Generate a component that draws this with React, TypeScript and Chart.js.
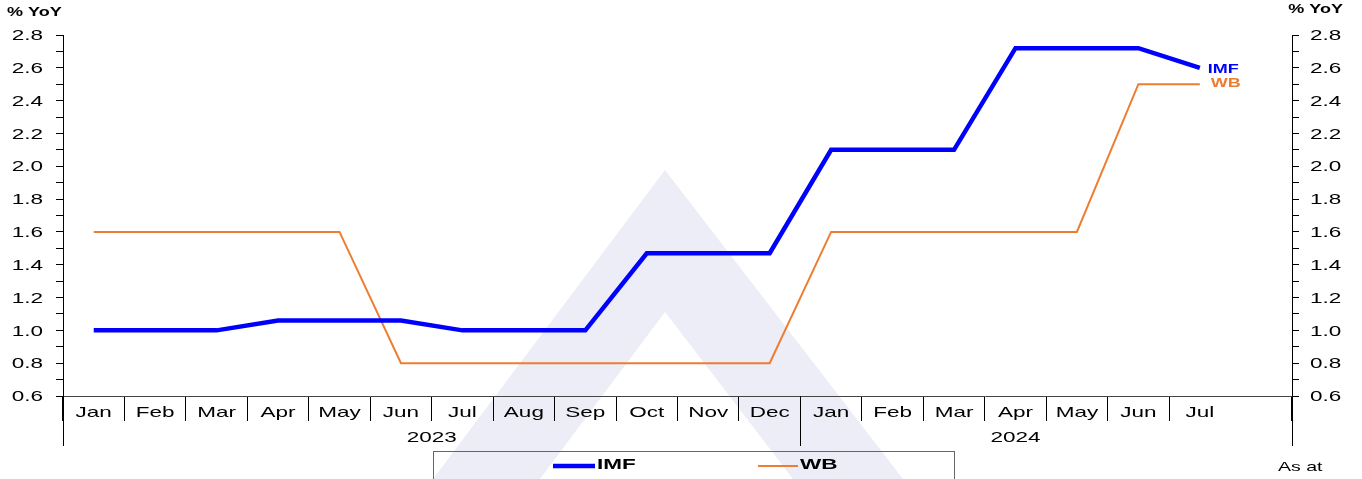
import React, { useEffect, useRef } from "react";
import { Chart, registerables } from "chart.js";

Chart.register(...registerables);

const monthLabels = [
  "Jan", "Feb", "Mar", "Apr", "May", "Jun", "Jul", "Aug", "Sep", "Oct", "Nov", "Dec",
  "Jan", "Feb", "Mar", "Apr", "May", "Jun", "Jul", "",
];
const yearLabels = ["2023", "2024"];
const yearMonthCounts = [12, 7];

const imfValues = [1.0, 1.0, 1.0, 1.06, 1.06, 1.06, 1.0, 1.0, 1.0, 1.47, 1.47, 1.47, 2.1, 2.1, 2.1, 2.72, 2.72, 2.72, 2.6];
const wbValues = [1.6, 1.6, 1.6, 1.6, 1.6, 0.8, 0.8, 0.8, 0.8, 0.8, 0.8, 0.8, 1.6, 1.6, 1.6, 1.6, 1.6, 2.5, 2.5];

const seriesNames = ["IMF", "WB"];
const seriesColors = ["#0000FF", "#ED7D31"];
const seriesWidths = [4.5, 2];

const yMin = 0.6;
const yMax = 2.8;
const yStep = 0.1;
const unitLabel = "% YoY";
const footnote = "As at";

const FONT = "'Liberation Sans', Arial, sans-serif";
const STRETCH = 1.5;

function stretchedText(
  ctx: CanvasRenderingContext2D,
  text: string,
  x: number,
  y: number,
  align: CanvasTextAlign,
  font: string,
  color: string
) {
  ctx.save();
  ctx.translate(x, y);
  ctx.scale(STRETCH, 1);
  ctx.font = font;
  ctx.fillStyle = color;
  ctx.textAlign = align;
  ctx.textBaseline = "middle";
  ctx.fillText(text, 0, 0);
  ctx.restore();
}

export default function App() {
  const canvasRef = useRef<HTMLCanvasElement | null>(null);

  useEffect(() => {
    const canvas = canvasRef.current;
    if (!canvas) return;

    const watermark = {
      id: "watermark",
      beforeDraw(chart: any) {
        const ctx = chart.ctx;
        ctx.save();
        ctx.fillStyle = "#EDEDF7";
        ctx.beginPath();
        ctx.moveTo(665, 170);
        ctx.lineTo(903, 479);
        ctx.lineTo(793, 479);
        ctx.lineTo(665, 312);
        ctx.lineTo(540, 479);
        ctx.lineTo(433, 479);
        ctx.closePath();
        ctx.fill();
        ctx.restore();
      },
    };

    const extras = {
      id: "extras",
      afterDatasetsDraw(chart: any) {
        const ctx = chart.ctx;
        const offsets = [8, 11];
        const dy = [1.5, -1];
        chart.data.datasets.forEach((ds: any, i: number) => {
          const meta = chart.getDatasetMeta(i);
          const pts = meta.data.filter((p: any, j: number) => ds.data[j] != null);
          const last = pts[pts.length - 1];
          if (!last) return;
          stretchedText(ctx, seriesNames[i], last.x + offsets[i], last.y + dy[i], "left", `bold 12px ${FONT}`, seriesColors[i]);
        });
      },
      afterDraw(chart: any) {
        const ctx = chart.ctx;
        const area = chart.chartArea;
        const x = chart.scales.x;
        const yL = chart.scales.y;
        const yR = chart.scales.y2;
        const tickFont = `15px ${FONT}`;

        // y tick labels
        yL.ticks.forEach((t: any) => {
          if (!t.label) return;
          const py = yL.getPixelForValue(t.value) + 1;
          stretchedText(ctx, String(t.label), area.left - 20, py, "right", tickFont, "#000");
        });
        yR.ticks.forEach((t: any) => {
          if (!t.label) return;
          const py = yR.getPixelForValue(t.value) + 1;
          stretchedText(ctx, String(t.label), area.right + 18, py, "left", tickFont, "#000");
        });
        // x tick labels
        x.ticks.forEach((t: any, i: number) => {
          const lbl = monthLabels[i];
          if (!lbl) return;
          stretchedText(ctx, lbl, x.getPixelForTick(i), area.bottom + 17, "center", tickFont, "#000");
        });

        ctx.save();
        ctx.strokeStyle = "#000";
        ctx.lineWidth = 1;
        const lineBottom = area.bottom + 50;
        const half = (x.getPixelForValue(1) - x.getPixelForValue(0)) / 2;
        const drawV = (px: number) => {
          const xx = Math.round(px) + 0.5;
          ctx.beginPath();
          ctx.moveTo(xx, area.bottom);
          ctx.lineTo(xx, lineBottom);
          ctx.stroke();
        };
        drawV(area.left - 0.5);
        drawV(area.right - 0.5);
        let start = 0;
        yearLabels.forEach((yl, i) => {
          const end = start + yearMonthCounts[i];
          const left = x.getPixelForValue(start) - half;
          const right = x.getPixelForValue(end - 1) + half;
          if (i > 0) drawV(left - 0.5);
          stretchedText(ctx, yl, (left + right) / 2, area.bottom + 42, "center", tickFont, "#000");
          start = end;
        });

        // legend box
        ctx.strokeStyle = "#666";
        ctx.lineWidth = 1;
        ctx.strokeRect(433.5, 451.5, 521, 40);
        const legendX = [553, 758];
        const legendLen = [42, 40];
        seriesNames.forEach((n, i) => {
          ctx.strokeStyle = seriesColors[i];
          ctx.lineWidth = seriesWidths[i];
          ctx.beginPath();
          ctx.moveTo(legendX[i], 466);
          ctx.lineTo(legendX[i] + legendLen[i], 466);
          ctx.stroke();
          stretchedText(ctx, n, legendX[i] + legendLen[i] + 2, 464.5, "left", `bold 15px ${FONT}`, "#000");
        });
        ctx.restore();

        // unit labels and footnote
        stretchedText(ctx, unitLabel, 7, 12.5, "left", `bold 12px ${FONT}`, "#000");
        stretchedText(ctx, unitLabel, 1343, 9.5, "right", `bold 12px ${FONT}`, "#000");
        stretchedText(ctx, footnote, 1278, 467, "left", `13px ${FONT}`, "#000");
      },
    };

    const yTickLabel = (v: any) => {
      const n = Math.round(Number(v) * 10);
      return n % 2 === 0 ? (n / 10).toFixed(1) : "";
    };

    const yAxis = (pos: string, width: number) => ({
      type: "linear",
      position: pos,
      min: yMin,
      max: yMax,
      grid: {
        drawOnChartArea: false,
        drawTicks: true,
        tickLength: 7,
        color: "#000",
        tickColor: "#000",
      },
      border: { display: true, color: "#000", width: 1 },
      ticks: {
        stepSize: yStep,
        autoSkip: false,
        color: "rgba(0,0,0,0)",
        font: { family: FONT, size: 15 },
        padding: 12,
        callback: yTickLabel,
      },
      afterFit(scale: any) {
        scale.width = width;
      },
    });

    const chart = new Chart(canvas, {
      type: "line",
      data: {
        labels: monthLabels,
        datasets: [imfValues, wbValues].map((vals, i) => ({
          label: seriesNames[i],
          data: vals,
          borderColor: seriesColors[i],
          backgroundColor: seriesColors[i],
          borderWidth: seriesWidths[i],
          pointRadius: 0,
          pointHoverRadius: 0,
          tension: 0,
          fill: false,
          yAxisID: "y",
        })),
      },
      options: {
        animation: false,
        responsive: false,
        maintainAspectRatio: false,
        layout: { padding: { top: 35, left: 0, right: 0, bottom: 0 } },
        plugins: {
          legend: { display: false },
          tooltip: { enabled: false },
          title: { display: false },
        },
        scales: {
          x: {
            type: "category",
            offset: true,
            grid: {
              offset: true,
              drawOnChartArea: false,
              drawTicks: true,
              tickLength: 25,
              color: "#000",
              tickColor: (c: any) => (c.index === monthLabels.length - 1 ? "rgba(0,0,0,0)" : "#000"),
            },
            border: { display: true, color: "#444", width: 1 },
            ticks: {
              autoSkip: false,
              maxRotation: 0,
              color: "rgba(0,0,0,0)",
              font: { family: FONT, size: 15 },
              padding: -18,
            },
            afterFit(scale: any) {
              scale.height = 83;
            },
          },
          y: yAxis("left", 63),
          y2: yAxis("right", 70),
        },
      } as any,
      plugins: [watermark, extras],
    });

    return () => chart.destroy();
  }, []);

  return (
    <div style={{ position: "absolute", left: 0, top: 0, width: 1362, height: 479, background: "#fff" }}>
      <canvas ref={canvasRef} width={1362} height={479} style={{ display: "block" }} />
    </div>
  );
}
